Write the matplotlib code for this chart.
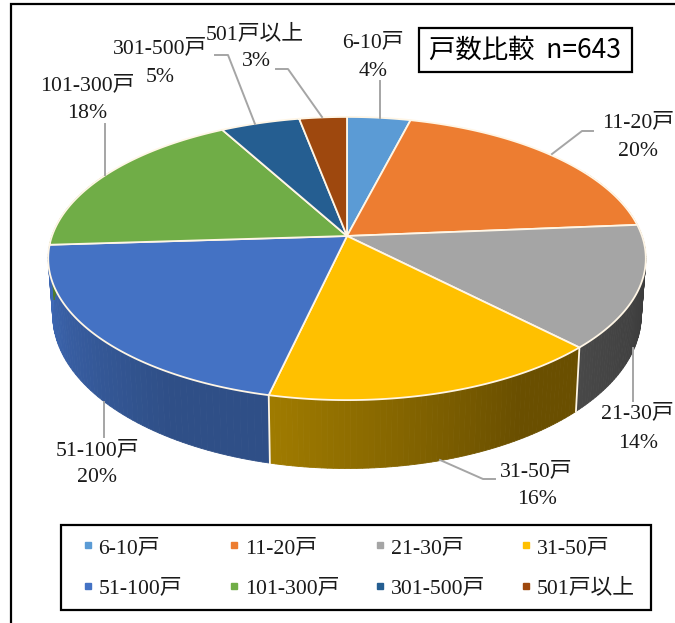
import numpy as np
import matplotlib
matplotlib.use('Agg')
import matplotlib.pyplot as plt
from matplotlib.colors import to_rgb
from matplotlib.lines import Line2D
from matplotlib.patches import Rectangle

# chart values
categories = ['6-10戸', '11-20戸', '21-30戸', '31-50戸', '51-100戸', '101-300戸', '301-500戸', '501戸以上']
percents = [4.0, 19.7, 14.0, 15.9, 20.4, 18.0, 5.0, 3.0]
colors = ['#5B9BD5', '#ED7D31', '#A5A5A5', '#FFC000', '#4472C4', '#70AD47', '#255E91', '#9E480E']
# side wall shading, colour at the start and at the end of each slice (clockwise)
side_start = ['#3c6c96', '#a0501c', '#3a3a3a', '#6a4f00', '#2f4f87', '#4e7a30', '#1a4266', '#6e320a']
side_end = ['#3c6c96', '#a0501c', '#484848', '#a07c00', '#3f6ab8', '#4e7a30', '#1a4266', '#6e320a']

# label centres and leader lines, in picture pixels
label_xy = [(373, 43), (638, 123), (637, 414), (536, 472), (97, 451), (87, 86), (160, 49), (255, 34)]
pct_xy = [(373, 71), (638, 151), (638, 443), (537, 500), (97, 478), (87, 114), (160, 77), (256, 62)]
leaders = [
    [(380, 81), (380, 118)],
    [(552, 154), (582, 131), (593, 131)],
    [(633, 348), (633, 401)],
    [(440, 460), (483, 479), (495, 479)],
    [(104, 402), (104, 437)],
    [(105, 175), (105, 124)],
    [(255, 124), (228, 55), (215, 55)],
    [(322, 117), (288, 69), (276, 69)],
]

serif = ['Liberation Serif', 'Noto Sans CJK JP']
sans = ['Noto Sans CJK JP', 'DejaVu Sans']


def top_rim(theta):
    # perspective view of the disk, theta clockwise from 12 o'clock
    x, y = np.sin(theta), np.cos(theta)
    d = 1 + 0.159 * y
    return 347 + 295 * x / d, 236 - 138 * y / d


def bottom_rim(theta):
    X, Y = top_rim(theta)
    return 347 + 0.985 * (X - 347), 1.085 * Y + 34.4


fig = plt.figure(figsize=(6.75, 6.23), dpi=100)
ax = fig.add_axes([0, 0, 1, 1])
ax.set_xlim(0, 675)
ax.set_ylim(623, 0)
ax.axis('off')

# outer frame, only left and top are inside the picture
ax.plot([11, 11, 675], [623, 4, 4], color='black', lw=1.6, solid_joinstyle='miter', zorder=1)

edges = np.radians(np.cumsum([0] + percents) * 3.6)

# side walls first
seams = []
for i in range(len(percents)):
    a0 = max(edges[i], np.radians(60))
    a1 = min(edges[i + 1], np.radians(300))
    if a1 <= a0:
        continue
    steps = np.linspace(a0, a1, 60)
    c0, c1 = np.array(to_rgb(side_start[i])), np.array(to_rgb(side_end[i]))
    for j in range(len(steps) - 1):
        t = (j + 0.5) / (len(steps) - 1)
        c = c0 + (c1 - c0) * np.clip((t - 0.25) / 0.75, 0, 1)
        px, py = top_rim(steps[j:j + 2])
        qx, qy = bottom_rim(steps[j:j + 2])
        ax.fill(np.r_[px, qx[::-1]], np.r_[py, qy[::-1]], color=c, lw=0.6, zorder=2)
    seams.append(edges[i + 1])

for a in seams[:4]:
    px, py = top_rim(a)
    qx, qy = bottom_rim(a)
    if np.radians(90) < a < np.radians(266):
        ax.plot([px, qx], [py, qy], color='#fff6e6', lw=1.3, zorder=3)

# top face
for i in range(len(percents)):
    steps = np.linspace(edges[i], edges[i + 1], 120)
    px, py = top_rim(steps)
    ax.fill(np.r_[347, px], np.r_[236, py], facecolor=colors[i], edgecolor='#fff6e6', lw=1.3,
            joinstyle='round', zorder=4)

# leader lines and data labels
for i in range(len(categories)):
    pts = np.array(leaders[i])
    ax.plot(pts[:, 0], pts[:, 1], color='#A5A5A5', lw=1.4, zorder=5)
    ax.text(label_xy[i][0], label_xy[i][1], categories[i], family=serif, fontsize=15.7,
            ha='center', va='center', color='#1a1a1a', zorder=6)
    ax.text(pct_xy[i][0], pct_xy[i][1], '%.0f%%' % percents[i], family=serif, fontsize=15.7,
            ha='center', va='center', color='#1a1a1a', zorder=6)

# title box
ax.add_patch(Rectangle((419, 28), 213, 44, facecolor='white', edgecolor='black', lw=1.6, zorder=6))
ax.text(525, 50, '戸数比較  n=643', family=sans, fontsize=19, ha='center', va='center', color='black', zorder=7)

# legend, filled row by row in the reference
handles = [Line2D([], [], ls='none', marker='s', ms=4.6, color=c) for c in colors]
order = [0, 4, 1, 5, 2, 6, 3, 7]
leg = ax.legend([handles[i] for i in order], [categories[i] for i in order], ncol=4,
                loc='center', bbox_to_anchor=(374, 568), bbox_transform=ax.transData,
                prop={'family': serif, 'size': 15.7}, frameon=False, handlelength=0.55,
                handletextpad=0.22, columnspacing=1.44, labelspacing=0.95)
leg._legend_handle_box.mode = 'equal'  # same width for all columns
leg.set_zorder(7)
for t in leg.get_texts():
    t.set_color('#1a1a1a')
ax.add_patch(Rectangle((61, 525), 590, 85, facecolor='white', edgecolor='black', lw=1.6, zorder=6))

fig.savefig('out.png', dpi=100, facecolor='white')
